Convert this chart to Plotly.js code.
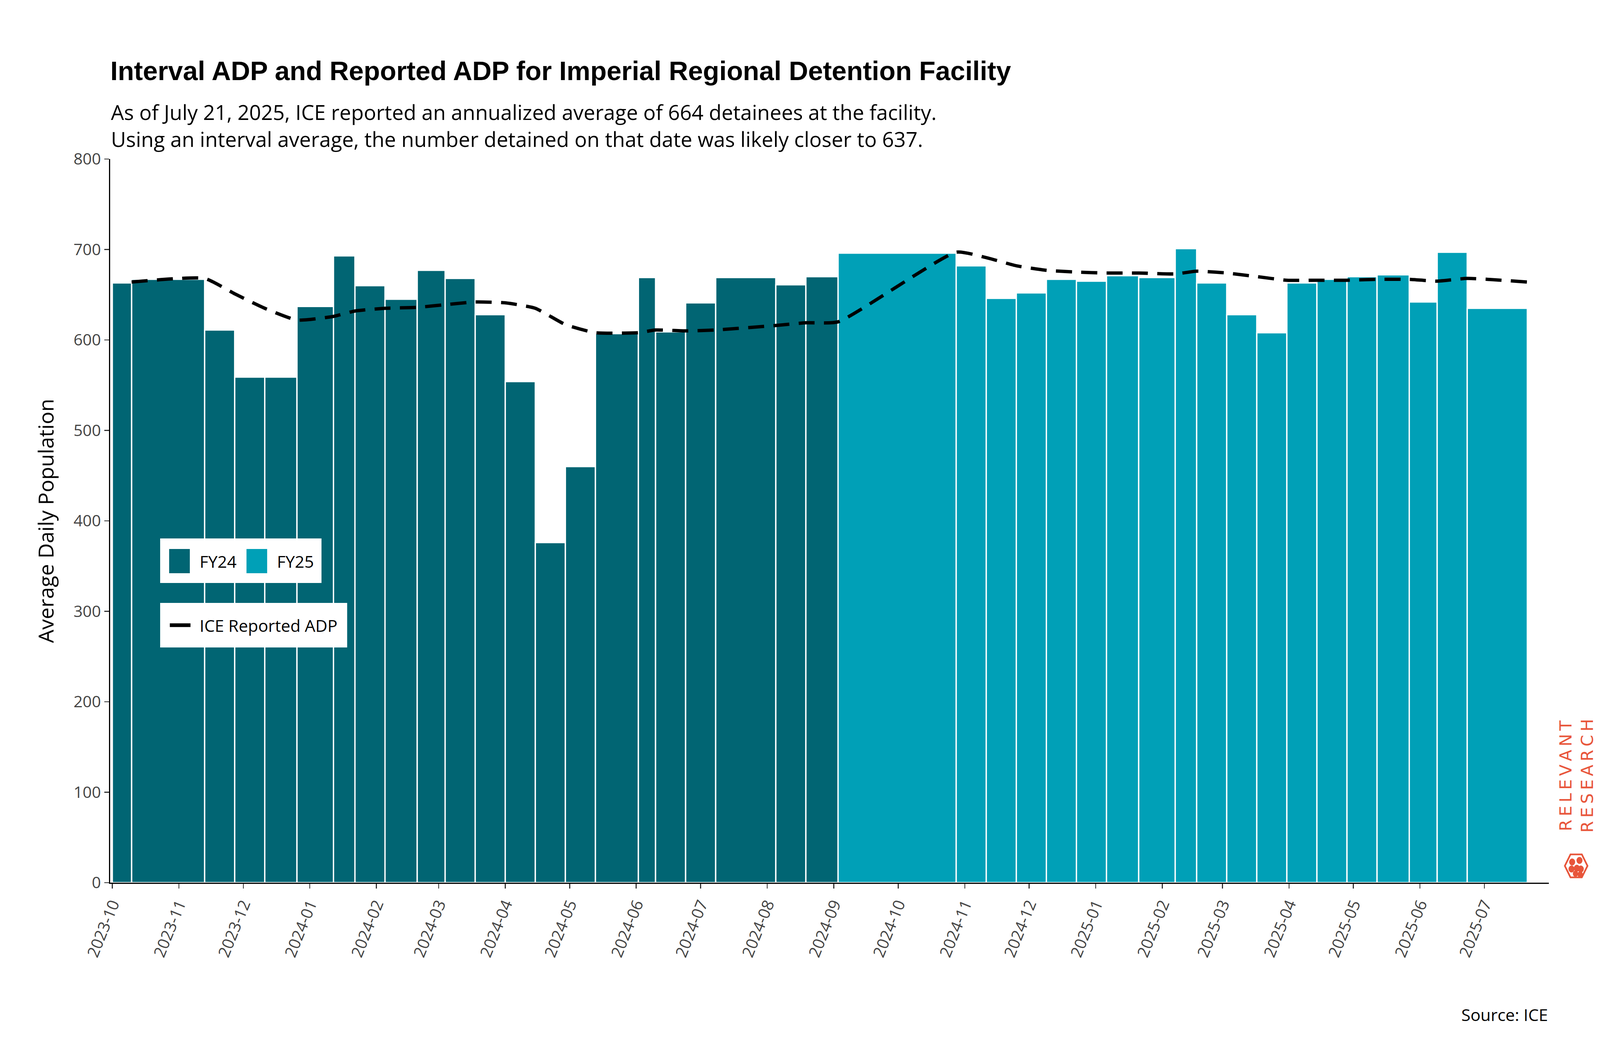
<!DOCTYPE html>
<html>
<head>
<meta charset="utf-8">
<script src="https://cdn.plot.ly/plotly-3.0.1.min.js"></script>
<style>
  html, body { margin: 0; padding: 0; background: #fff; overflow: hidden; }
  #chart { width: 100vw; height: 100vh; }
</style>
</head>
<body>
<div id="chart"></div>
<script>
// Reporting dates (end of each interval) and interval ADP values.
const periodStart = '2023-10-01';
const fy24Dates = ['2023-10-10', '2023-11-13', '2023-11-27', '2023-12-11', '2023-12-26',
    '2024-01-12', '2024-01-22', '2024-02-05', '2024-02-20', '2024-03-04', '2024-03-18',
    '2024-04-01', '2024-04-15', '2024-04-29', '2024-05-13', '2024-06-02', '2024-06-10',
    '2024-06-24', '2024-07-08', '2024-08-05', '2024-08-19', '2024-09-03'];
const fy24Values = [663, 667, 611, 559, 559, 637, 693, 660, 645, 677, 668,
    628, 554, 376, 460, 607, 669, 609, 641, 669, 661, 670];
const fy25Dates = ['2024-10-28', '2024-11-11', '2024-11-25', '2024-12-09', '2024-12-23',
    '2025-01-06', '2025-01-21', '2025-02-07', '2025-02-17', '2025-03-03', '2025-03-17',
    '2025-03-31', '2025-04-14', '2025-04-28', '2025-05-12', '2025-05-27', '2025-06-09',
    '2025-06-23', '2025-07-21'];
const fy25Values = [696, 682, 646, 652, 667, 665, 671, 669, 701, 663, 628,
    608, 663, 667, 670, 672, 642, 697, 635];

// ICE reported (annualized) ADP at each reporting date.
const reportedDates = fy24Dates.concat(fy25Dates);
const reportedValues = [664, 668, 651, 635, 622, 626, 632, 635, 636, 639, 642,
    641, 635, 617, 608, 608, 611, 610, 611, 616, 619, 620,
    697, 691, 682, 677, 675, 674, 674, 673, 676, 674, 670,
    666, 666, 666, 667, 667, 665, 668, 664];

const toMs = d => new Date(d + 'T00:00:00Z').getTime();

// Each bar spans from the previous reporting date to its own date.
function barWidths(dates, prevDate) {
    let prev = prevDate;
    return dates.map(d => {
        const w = toMs(d) - toMs(prev);
        prev = d;
        return w;
    });
}
const fy24Widths = barWidths(fy24Dates, periodStart);
const fy25Widths = barWidths(fy25Dates, fy24Dates[fy24Dates.length - 1]);

// Everything is laid out for a 4800x2700 canvas and stretched to the window.
const W = window.innerWidth, H = window.innerHeight;
const k = W / 4800, ky = H / 2700;
const s = v => v * k;

const bodyFont = 'Open Sans, Noto Sans, sans-serif';
const dark = '#016573', light = '#00A0B7', logo = '#E8553A';

const traces = [
    {
        type: 'bar', name: 'FY24',
        x: fy24Dates, y: fy24Values,
        width: fy24Widths, offset: fy24Widths.map(w => -w),
        marker: { color: dark, line: { color: '#ffffff', width: s(4) } }
    },
    {
        type: 'bar', name: 'FY25',
        x: fy25Dates, y: fy25Values,
        width: fy25Widths, offset: fy25Widths.map(w => -w),
        marker: { color: light, line: { color: '#ffffff', width: s(4) } }
    },
    {
        type: 'scatter', mode: 'lines', name: 'ICE Reported ADP',
        x: reportedDates, y: reportedValues,
        line: { color: '#000000', width: s(10), dash: s(48) + 'px,' + s(28) + 'px', shape: 'spline', smoothing: 0.5 }
    }
];

// Plot area in 4800x2700 pixels, used to place the hand-drawn legends.
const L = 331, R = 4647, T = 407, B = 2259;
const px = x => (x - L) / (R - L);
const py = y => (B - y) / (B - T);

// Hexagon outline for the logo.
const hcx = 4729, hcy = 2216, hr = 34;
let hexPath = '';
for (let i = 0; i < 6; i++) {
    const a = Math.PI / 3 * i;
    hexPath += (i ? 'L' : 'M') + px(hcx + hr * Math.cos(a)) + ',' + py(hcy + hr * Math.sin(a));
}
hexPath += 'Z';
const dots = [[-12, -10, 9], [10, -14, 9], [-14, 8, 9], [2, 6, 9], [14, 8, 9], [-2, 20, 8], [12, 22, 8]];

const shapes = [
    // Legend boxes
    { type: 'rect', xref: 'paper', yref: 'paper', x0: px(481), x1: px(965), y0: py(1492), y1: py(1378), fillcolor: '#ffffff', line: { width: 0 }, layer: 'above' },
    { type: 'rect', xref: 'paper', yref: 'paper', x0: px(481), x1: px(1042), y0: py(1657), y1: py(1543), fillcolor: '#ffffff', line: { width: 0 }, layer: 'above' },
    // Swatches
    { type: 'rect', xref: 'paper', yref: 'paper', x0: px(508), x1: px(570), y0: py(1467), y1: py(1405), fillcolor: dark, line: { width: 0 }, layer: 'above' },
    { type: 'rect', xref: 'paper', yref: 'paper', x0: px(740), x1: px(802), y0: py(1467), y1: py(1405), fillcolor: light, line: { width: 0 }, layer: 'above' },
    // Dashed line sample
    { type: 'line', xref: 'paper', yref: 'paper', x0: px(510), x1: px(572), y0: py(1600), y1: py(1600), line: { color: '#000000', width: s(11) }, layer: 'above' },
    // Logo
    { type: 'path', xref: 'paper', yref: 'paper', path: hexPath, line: { color: logo, width: s(5) } }
].concat(dots.map(([dx, dy, r]) => ({
    type: 'circle', xref: 'paper', yref: 'paper',
    x0: px(hcx + dx - r), x1: px(hcx + dx + r), y0: py(hcy + dy + r), y1: py(hcy + dy - r),
    fillcolor: logo, line: { width: 0 }
})));

const legendText = (x, y, text) => ({
    xref: 'paper', yref: 'paper', x: px(x), y: py(y), xanchor: 'left', yanchor: 'middle',
    showarrow: false, text: text, font: { family: bodyFont, size: s(50), color: '#000000' }
});

const layout = {
    width: W, height: H,
    margin: { l: s(L), r: s(4800 - R), t: T * ky, b: (2700 - B) * ky },
    paper_bgcolor: '#ffffff', plot_bgcolor: '#ffffff',
    barmode: 'overlay', bargap: 0, showlegend: false,
    font: { family: bodyFont, color: '#222222' },
    title: {
        text: '<b>Interval ADP and Reported ADP for Imperial Regional Detention Facility</b>',
        font: { family: 'Liberation Sans, Arial, sans-serif', size: s(80), color: '#000000' },
        x: L / 4800, xanchor: 'left', y: 1 - 181 / 2700, yref: 'container', yanchor: 'middle'
    },
    xaxis: {
        type: 'date',
        range: ['2023-09-30', '2025-07-31'],
        dtick: 'M1', tick0: '2023-10-01', tickformat: '%Y-%m', tickangle: -68,
        tickfont: { family: bodyFont, size: s(48), color: '#444444' },
        showgrid: false, zeroline: false,
        showline: true, linecolor: '#000000', linewidth: s(4),
        ticks: 'outside', ticklen: s(14), tickwidth: s(3), tickcolor: '#333333'
    },
    yaxis: {
        range: [0, 800], dtick: 100,
        tickfont: { family: bodyFont, size: s(48), color: '#444444' },
        title: { text: 'Average Daily Population', font: { family: bodyFont, size: s(63), color: '#000000' }, standoff: s(40) },
        showgrid: false, zeroline: false,
        showline: true, linecolor: '#000000', linewidth: s(4),
        ticks: 'outside', ticklen: s(14), tickwidth: s(3), tickcolor: '#333333'
    },
    shapes: shapes,
    annotations: [
        {
            xref: 'paper', yref: 'paper', x: 0, y: 1.0, xanchor: 'left', yanchor: 'bottom', yshift: 14 * ky,
            align: 'left', showarrow: false,
            text: 'As of July 21, 2025, ICE reported an annualized average of 664 detainees at the facility.<br>' +
                'Using an interval average, the number detained on that date was likely closer to 637.',
            font: { family: bodyFont, size: s(62), color: '#000000' }
        },
        {
            xref: 'paper', yref: 'paper', x: 1, y: py(2596), xanchor: 'right', yanchor: 'middle',
            showarrow: false, text: 'Source: ICE',
            font: { family: bodyFont, size: s(50), color: '#000000' }
        },
        {
            xref: 'paper', yref: 'paper', x: px(4729), y: py(1985), xanchor: 'center', yanchor: 'middle',
            showarrow: false, textangle: -90,
            text: 'R\u2009E\u2009L\u2009E\u2009V\u2009A\u2009N\u2009T<br>R\u2009E\u2009S\u2009E\u2009A\u2009R\u2009C\u2009H',
            font: { family: 'DejaVu Sans, sans-serif', size: s(50), color: logo }
        },
        legendText(597, 1436, 'FY24'),
        legendText(829, 1436, 'FY25'),
        legendText(597, 1600, 'ICE Reported ADP')
    ]
};

Plotly.newPlot(document.getElementById('chart'), traces, layout, { displayModeBar: false, staticPlot: true });
</script>
</body>
</html>
